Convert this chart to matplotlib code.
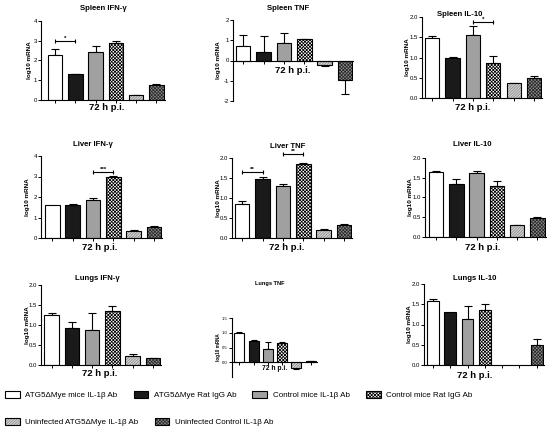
import numpy as np
import matplotlib
matplotlib.use("Agg")
import matplotlib.pyplot as plt
from matplotlib.patches import Patch

plt.rcParams['font.family'] = ['Liberation Sans', 'DejaVu Sans']
plt.rcParams['hatch.linewidth'] = 0.55

W, H = 550, 430

groups = ["ATG5\u0394Mye mice IL-1\u03b2 Ab", "ATG5\u0394Mye Rat IgG Ab",
          "Control mice IL-1\u03b2 Ab", "Control mice Rat IgG Ab",
          "Uninfected ATG5\u0394Mye IL-1\u03b2 Ab", "Uninfected Control IL-1\u03b2 Ab"]

spleen_ifng = [2.30, 1.31, 2.45, 2.88, 0.25, 0.78]
spleen_ifng_err = [0.27, 0.02, 0.29, 0.09, 0.01, 0.03]
spleen_tnf = [0.74, 0.44, 0.85, 1.05, -0.21, -0.97]
spleen_tnf_err = [0.51, 0.77, 0.49, 0.03, 0.05, 0.69]
spleen_il10 = [1.47, 1.00, 1.55, 0.86, 0.37, 0.50]
spleen_il10_err = [0.05, 0.01, 0.22, 0.17, 0.01, 0.05]
liver_ifng = [1.63, 1.62, 1.85, 3.00, 0.34, 0.54]
liver_ifng_err = [0.0, 0.03, 0.08, 0.03, 0.05, 0.06]
liver_tnf = [0.86, 1.48, 1.31, 1.86, 0.21, 0.32]
liver_tnf_err = [0.06, 0.05, 0.04, 0.01, 0.01, 0.02]
liver_il10 = [1.65, 1.34, 1.62, 1.30, 0.30, 0.48]
liver_il10_err = [0.01, 0.14, 0.04, 0.13, 0.01, 0.03]
lungs_ifng = [1.25, 0.93, 0.88, 1.35, 0.23, 0.17]
lungs_ifng_err = [0.06, 0.14, 0.41, 0.13, 0.04, 0.01]
lungs_tnf = [1.00, 0.72, 0.45, 0.66, -0.20, 0.04]
lungs_tnf_err = [0.03, 0.05, 0.24, 0.02, 0.02, 0.01]
lungs_il10 = [1.57, 1.30, 1.13, 1.36, np.nan, 0.50]
lungs_il10_err = [0.06, 0.0, 0.33, 0.15, 0.0, 0.15]

faces = ['white', '#1a1a1a', '#a0a0a0', 'white', '#d4d4d4', '#8c8c8c']
hatches = [None, None, None, 'xxxxxxxxxx', '////////////', 'xxxxxxxxxx']
hatch_cols = ['black', 'black', 'black', 'black', '#8a8a8a', '#2a2a2a']


def px_axes(x0, x1, ytop, ybot):
    return fig.add_axes([x0 / W, 1 - ybot / H, (x1 - x0) / W, (ybot - ytop) / H])


def draw_panel(x0, x1, ytop, ybot, ylim, yticks, yfmt, values, errs, title,
               title_xy, xlab_xy, lab_off, positions=None, nticks=6, xleft=-0.5,
               xright=5.4, width=0.72, fs=1.0, zero_axis=False, brackets=()):
    ax = px_axes(x0, x1, ytop, ybot)
    if positions is None:
        positions = list(range(len(values)))
    for i, (p, v, e) in enumerate(zip(positions, values, errs)):
        if np.isnan(v):
            continue
        ax.bar(p, v, width, color=faces[i], edgecolor=hatch_cols[i],
               hatch=hatches[i], linewidth=0, zorder=2)
        ax.bar(p, v, width, fill=False, edgecolor='black', linewidth=0.8, zorder=3)
        if e > 0:
            yerr = [[0], [e]] if v >= 0 else [[e], [0]]
            ax.errorbar(p, v, yerr=yerr, fmt='none', ecolor='black',
                        elinewidth=0.8, capsize=2.8 * fs, capthick=0.8, zorder=1)
    ax.set_xlim(xleft, xright)
    ax.set_ylim(*ylim)
    ax.set_yticks(yticks)
    ax.set_yticklabels([yfmt.format(t) for t in yticks])
    ax.set_xticks(range(nticks))
    ax.set_xticklabels([])
    ax.tick_params(axis='both', length=2, width=0.7, labelsize=4.3 * fs, pad=1)
    for s in ['top', 'right']:
        ax.spines[s].set_visible(False)
    for s in ['left', 'bottom']:
        ax.spines[s].set_linewidth(0.8)
    if zero_axis:
        ax.spines['bottom'].set_position(('data', 0))
    ax.set_ylabel('log10 mRNA', fontsize=4.6 * fs, fontweight='bold')
    ax.yaxis.set_label_coords(-lab_off / (x1 - x0), 0.5)
    for b0, b1, yb, txt in brackets:
        ax.plot([b0, b1], [yb, yb], color='black', lw=0.8, clip_on=False)
        ax.plot([b0, b1], [yb, yb], ls='none', marker='|', ms=3.5, mew=0.8,
                color='black', clip_on=False)
        ax.text((b0 + b1) / 2, yb, txt, ha='center', va='bottom',
                fontsize=4.5, fontweight='bold', clip_on=False)
    fig.text(title_xy[0] / W, 1 - title_xy[1] / H, title, ha='center', va='center',
             fontsize=5.6 * fs, fontweight='bold')
    fig.text(xlab_xy[0] / W, 1 - xlab_xy[1] / H, '72 h p.i.', ha='center', va='center',
             fontsize=6.8 * fs, fontweight='bold')
    return ax


fig = plt.figure(figsize=(W / 100, H / 100), dpi=100)

draw_panel(41, 164.5, 21, 100, (0, 4), [0, 1, 2, 3, 4], '{:.0f}', spleen_ifng,
           spleen_ifng_err, 'Spleen IFN-\u03b3', (103, 8), (107, 108), 9,
           xleft=-0.69, brackets=[(0, 1, 3.0, '*')])
draw_panel(233, 353, 20, 101, (-2, 2), [-2, -1, 0, 1, 2], '{:.0f}', spleen_tnf,
           spleen_tnf_err, 'Spleen TNF', (288, 8), (293, 70), 12, zero_axis=True)
draw_panel(422, 542, 17, 98, (0, 2), [0, 0.5, 1, 1.5, 2], '{:.1f}', spleen_il10,
           spleen_il10_err, 'Spleen IL-10', (460, 14), (473, 108), 12, width=0.69,
           brackets=[(2, 3, 1.88, '*')])
draw_panel(41, 162, 156, 238, (0, 4), [0, 1, 2, 3, 4], '{:.0f}', liver_ifng,
           liver_ifng_err, 'Liver IFN-\u03b3', (93, 145), (100, 247), 11,
           xleft=-0.56, brackets=[(2, 3, 3.23, '***')])
draw_panel(232, 352, 158, 238, (0, 2), [0, 0.5, 1, 1.5, 2], '{:.1f}', liver_tnf,
           liver_tnf_err, 'Liver TNF', (288, 146), (287, 247), 11,
           brackets=[(0, 1, 1.65, '**'), (2, 3, 2.11, '**')])
draw_panel(425, 545.5, 158, 237, (0, 2), [0, 0.5, 1, 1.5, 2], '{:.1f}', liver_il10,
           liver_il10_err, 'Liver IL-10', (472, 144), (483, 247), 12, xleft=-0.54)
draw_panel(41, 161, 285, 365, (0, 2), [0, 0.5, 1, 1.5, 2], '{:.1f}', lungs_ifng,
           lungs_ifng_err, 'Lungs IFN-\u03b3', (97, 279), (100, 373), 11,
           xleft=-0.52)
draw_panel(232, 316.5, 318, 377, (-0.5, 1.5), [0, 0.5, 1, 1.5], '{:.1f}', lungs_tnf,
           lungs_tnf_err, 'Lungs TNF', (270, 283), (275, 368), 11, xleft=-0.51,
           width=0.7, fs=0.72, zero_axis=True)
draw_panel(424, 543.7, 284, 365, (0, 2), [0, 0.5, 1, 1.5, 2], '{:.1f}', lungs_il10,
           lungs_il10_err, 'Lungs IL-10', (475, 278), (475, 375), 12,
           positions=[0, 1, 2, 3, 4, 6], nticks=7, xleft=-0.52, xright=6.4,
           width=0.67)

# legend
handles = []
for i in range(len(groups)):
    handles.append((Patch(facecolor=faces[i], edgecolor=hatch_cols[i], hatch=hatches[i], lw=0),
                    Patch(fill=False, edgecolor='black', lw=0.8)))
leg_kw = dict(frameon=False, fontsize=5.8, handlelength=1.85, handleheight=1.1,
              handletextpad=0.65, columnspacing=2.0, borderaxespad=0, borderpad=0)
fig.legend(handles[:4], groups[:4], loc='center left', ncol=4,
           bbox_to_anchor=(5 / W, 1 - 395 / H), **leg_kw)
fig.legend(handles[4:], groups[4:], loc='center left', ncol=2,
           bbox_to_anchor=(5 / W, 1 - 422 / H), **leg_kw)

fig.savefig('out.png', dpi=100)
